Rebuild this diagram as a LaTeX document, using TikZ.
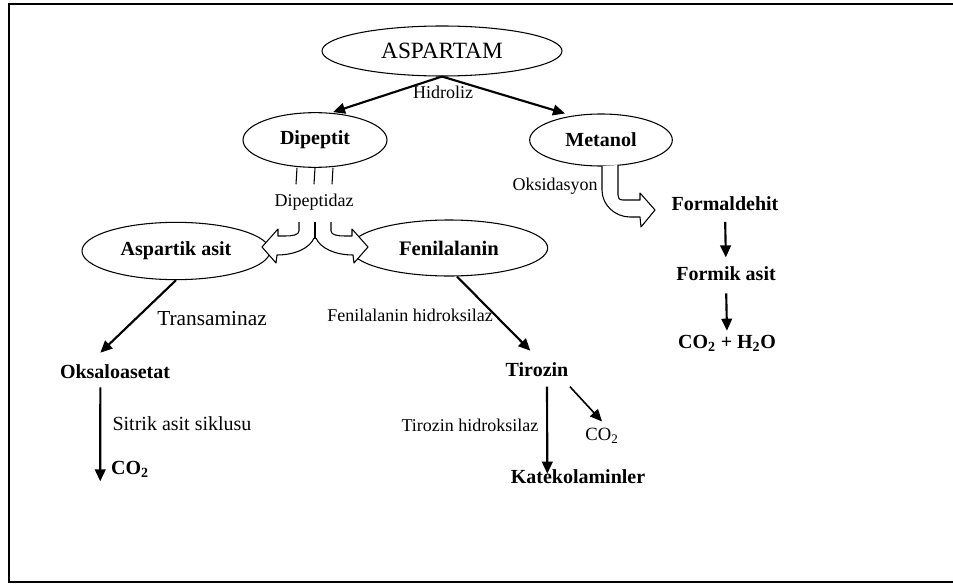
\documentclass[tikz,border=0pt]{standalone}
\usepackage{fontspec}
\setmainfont{Liberation Serif}
\usepackage{tikz}
\usetikzlibrary{shapes,arrows.meta}

\begin{document}
\begin{tikzpicture}[x=0.75pt,y=-0.75pt,
    oval/.style={ellipse,draw,line width=0.8pt,inner sep=0pt,font=\fontsize{15}{18}\selectfont\bfseries},
    product/.style={inner sep=1pt,font=\fontsize{15}{18}\selectfont\bfseries},
    enzyme/.style={inner sep=1pt,font=\fontsize{13.5}{16}\selectfont},
    flow/.style={line width=1.6pt,-{Triangle[length=9pt,width=8pt]}},
    hollow/.style={draw,line width=0.8pt,fill=white,line join=round}]
    \useasboundingbox (0,0) rectangle (953,585);
    \draw [line width=1.5pt] (953,4) -- (9,4) -- (9,582) -- (953,582);
    \node [oval,minimum width=180pt,minimum height=37.5pt,font=\fontsize{17.5}{20}\selectfont] (aspartam) at (442,51) {ASPARTAM};
    \node [oval,minimum width=108pt,minimum height=41pt] (dipeptit) at (315,140) {Dipeptit};
    \node [oval,minimum width=107pt,minimum height=39pt] (metanol) at (601,140) {Metanol};
    \node [oval,minimum width=141pt,minimum height=43pt] (aspartikAsit) at (176,251) {Aspartik asit};
    \node [oval,minimum width=148pt,minimum height=42pt,font=\fontsize{15.5}{18}\selectfont\bfseries] (fenilalanin) at (449,248) {Fenilalanin};
    \node [enzyme] (hidroliz) at (443,92) {Hidroliz};
    \node [enzyme] (dipeptidaz) at (314,202) {Dipeptidaz};
    \node [enzyme] (oksidasyon) at (555,186) {Oksidasyon};
    \node [enzyme,font=\fontsize{16}{19}\selectfont] (transaminaz) at (212,319) {Transaminaz};
    \node [enzyme,font=\fontsize{15}{18}\selectfont] (sitrikAsit) at (182,424) {Sitrik asit siklusu};
    \node [enzyme] (fenilHidroksilaz) at (410,315) {Fenilalanin hidroksilaz};
    \node [enzyme] (tirozinHidroksilaz) at (470,425) {Tirozin hidroksilaz};
    \node [product] (oksaloasetat) at (115,372) {Oksaloasetat};
    \node [product] (co2Sitrik) at (130,469) {CO\textsubscript{2}};
    \node [product] (tirozin) at (537,370) {Tirozin};
    \node [product] (katekolaminler) at (578,477) {Katekolaminler};
    \node [enzyme,font=\fontsize{14}{17}\selectfont] (co2Tirozin) at (602,436) {CO\textsubscript{2}};
    \node [product] (formaldehit) at (725,204) {Formaldehit};
    \node [product] (formikAsit) at (726,274) {Formik asit};
    \node [product] (son) at (727,343) {CO\textsubscript{2} + H\textsubscript{2}O};
    \draw [flow] (aspartam.south) -- ([xshift=13.5pt]dipeptit.north);
    \draw [flow] (aspartam.south) -- ([xshift=-27pt]metanol.north);
    \foreach \dx in {-13.5pt,0pt,13.5pt}
        \draw [line width=0.8pt] ([xshift=\dx]dipeptit.south) -- ([xshift=\dx,yshift=6pt]dipeptidaz.north);
    \draw [hollow] (299,222) -- (299,231) .. controls (299,235) and (292,236) .. (285,236) -- (278,236) -- (278,229)
        -- (262,247) -- (276,263) -- (277,255) .. controls (295,255) and (310,248) .. (314,238);
    \draw [hollow] (331,222) -- (331,231) .. controls (331,235) and (338,236) .. (345,236) -- (352,236) -- (352,229)
        -- (368,247) -- (354,263) -- (353,255) .. controls (335,255) and (320,248) .. (316,238);
    \draw [line width=0.8pt] (315,222) -- (315,239);
    \draw [hollow] (602,166) -- (602,190) .. controls (602,205) and (615,217) .. (630,217) -- (640,217) -- (641,227)
        -- (655,210) -- (640,193) -- (640,200) -- (623,200) .. controls (619,200) and (618,198) .. (618,195) -- (618,165);
    \draw [flow] (aspartikAsit.south) -- ([xshift=-11pt,yshift=8pt]oksaloasetat.north);
    \draw [flow] ([xshift=-11pt,yshift=-5pt]oksaloasetat.south) -- ([xshift=-7pt,yshift=-2pt]co2Sitrik.south west);
    \draw [flow] ([xshift=6pt]fenilalanin.south) -- ([xshift=-5pt,yshift=8pt]tirozin.north);
    \draw [flow] ([xshift=7.5pt,yshift=-6pt]tirozin.south) -- ([xshift=-23pt,yshift=-4pt]katekolaminler.north);
    \draw [flow,line width=1.2pt] ([yshift=-6pt]tirozin.south east) -- ([yshift=4pt]co2Tirozin.north);
    \draw [flow,shorten <=7pt,shorten >=6pt] (formaldehit.south) -- (formikAsit.north);
    \draw [flow,shorten <=8pt,shorten >=2pt] (formikAsit.south) -- (son.north);
\end{tikzpicture}
\end{document}
